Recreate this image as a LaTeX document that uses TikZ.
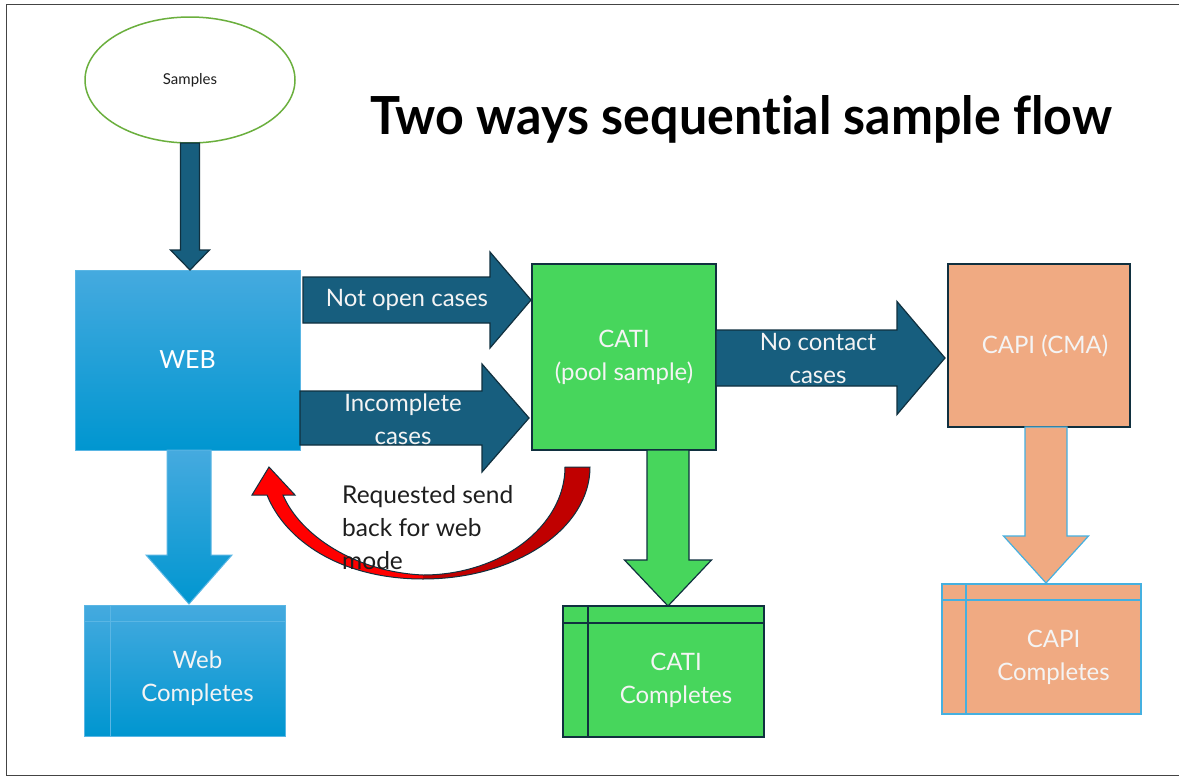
\documentclass[tikz,border=0pt]{standalone}
\usepackage{graphicx}
\usepackage{fontspec}
\setmainfont[Ligatures=NoCommon]{Lato}
\usetikzlibrary{shapes.geometric,calc}
\definecolor{arrowteal}{HTML}{175E7E}
\definecolor{navyline}{HTML}{10303F}
\definecolor{catigreen}{HTML}{47D65C}
\definecolor{capisalmon}{HTML}{F0AA82}
\definecolor{webtop}{HTML}{45AADF}
\definecolor{webbot}{HTML}{0096D0}
\definecolor{webedge}{HTML}{5AB6E4}
\definecolor{capiedge}{HTML}{45B0E0}
\definecolor{redbright}{HTML}{FF0000}
\definecolor{reddark}{HTML}{C00000}
\definecolor{framec}{HTML}{444444}
\definecolor{samplegreen}{HTML}{6AAF3D}
\definecolor{textdark}{HTML}{1E1E1E}
\definecolor{labelwhite}{HTML}{F4F4F4}
% vertical block arrow: #1 style, #2 top centre, #3 tip, #4 half shaft, #5 half head, #6 head length
\newcommand\vblockarrow[6]{%
  \path[#1] let \p1=(#2), \p2=(#3) in
    (\x1-#4pt,\y1) -- (\x1-#4pt,\y2+#6pt) -- (\x1-#5pt,\y2+#6pt) -- (\x1,\y2)
    -- (\x1+#5pt,\y2+#6pt) -- (\x1+#4pt,\y2+#6pt) -- (\x1+#4pt,\y1) -- cycle;}
% horizontal block arrow: #1 style, #2 left centre, #3 tip, #4 half shaft, #5 half head, #6 head length
\newcommand\hblockarrow[6]{%
  \path[#1] let \p1=(#2), \p2=(#3) in
    (\x1,\y1+#4pt) -- (\x2-#6pt,\y1+#4pt) -- (\x2-#6pt,\y1+#5pt) -- (\x2,\y1)
    -- (\x2-#6pt,\y1-#5pt) -- (\x2-#6pt,\y1-#4pt) -- (\x1,\y1-#4pt) -- cycle;}
\tikzset{
  tarrow/.style={fill=arrowteal, draw=navyline, line width=1.2pt, line join=miter},
  lbl/.style={text=labelwhite, font=\fontsize{24}{33}\selectfont, inner sep=0pt, align=center},
  boxnode/.style={rectangle, inner sep=0pt, line width=1.2pt},
  webshade/.style={top color=webtop, bottom color=webbot, draw=webedge, line width=1pt},
}
\begin{document}
\begin{tikzpicture}[x=1pt,y=-1pt]
\useasboundingbox (0,0) rectangle (1179,779);
\fill[white] (0,0) rectangle (1179,779);
\draw[framec, line width=1.5pt] (1185,4.5) -- (6.5,4.5) -- (6.5,775.5) -- (1185,775.5);

% title
\node[anchor=base west, inner sep=0pt] (title) at (370,134)
  {\resizebox{742pt}{39pt}{\bfseries Two ways sequential sample flow}};

% samples
\node[ellipse, draw=samplegreen, line width=1.5pt, minimum width=210pt, minimum height=126pt,
      inner sep=0pt, text=textdark, font=\fontsize{15}{18}\selectfont] (samples) at (190,80) {Samples};

% boxes
\node[boxnode, webshade, minimum width=225pt, minimum height=180pt, text=white,
      font=\fontsize{25}{33}\selectfont] (web) at (187.5,360) {WEB};
\node[boxnode, fill=catigreen, draw=navyline, minimum width=184pt, minimum height=186pt,
      lbl] (cati) at (624,357) {CATI\\(pool sample)};
\node[boxnode, fill=capisalmon, draw=navyline, minimum width=182pt, minimum height=163pt,
      lbl] (capi) at (1039,345.5) {\hspace{12pt}CAPI (CMA)};

% completes
\node[boxnode, webshade, minimum width=201pt, minimum height=131pt] (webc) at (184.5,670.5) {};
\draw[webedge, line width=1pt] (84,621) -- (285,621) (110,605) -- (110,736);
\node[lbl] (webct) at (197.5,678.5) {Web\\Completes};

\node[boxnode, fill=catigreen, draw=navyline, minimum width=201pt, minimum height=131pt] (catic) at (663.5,671.5) {};
\draw[navyline, line width=1.2pt] (563,623) -- (764,623) (588,606) -- (588,737);
\node[lbl] (catict) at (676,680) {CATI\\Completes};

\node[boxnode, fill=capisalmon, draw=capiedge, minimum width=199pt, minimum height=130pt] (capic) at (1041.5,649) {};
\draw[capiedge, line width=1.2pt] (942,600) -- (1141,600) (966,584) -- (966,714);
\node[lbl] (capict) at (1053.5,657) {CAPI\\Completes};

% named arrow ends
\coordinate (s0) at (190,143);
\coordinate (s1) at (190,270);
\coordinate (a1s) at (303,300);
\coordinate (a1e) at (531,300);
\coordinate (a2s) at (300,418);
\coordinate (a2e) at (529,418);
\coordinate (a3s) at (716,358);
\coordinate (a3e) at (945,358);
\coordinate (w0) at (189,450);
\coordinate (w1) at (189,604);
\coordinate (c0) at (668,450);
\coordinate (c1) at (668,606);
\coordinate (p0) at (1046,427);
\coordinate (p1) at (1046,583);

% block arrows
\vblockarrow{tarrow}{s0}{s1}{9.5}{19.5}{20}
\hblockarrow{tarrow}{a1s}{a1e}{23}{48}{41}
\hblockarrow{tarrow}{a2s}{a2e}{27}{54}{47}
\hblockarrow{tarrow}{a3s}{a3e}{28}{56.5}{48}
\vblockarrow{top color=webtop, bottom color=webbot, draw=webedge, line width=1pt}{w0}{w1}{22}{43}{49}
\vblockarrow{fill=catigreen, draw=navyline, line width=1.2pt}{c0}{c1}{21}{43.5}{46}
\vblockarrow{fill=capisalmon, draw=capiedge, line width=1.2pt}{p0}{p1}{21}{42.5}{47}

% arrow labels
\node[lbl] (l1) at (407,300) {Not open cases};
\node[lbl] (l2) at (403,419) {Incomplete\\cases};
\node[lbl] (l3) at (818,358) {No contact\\cases};

% red curved arrow back to web
\fill[redbright] (269,467) -- (295,495) -- (283,495)
  .. controls (300,535) and (355,572) .. (423,575)
  -- (423,579)
  .. controls (340,579) and (285,540) .. (267,495)
  -- (252,495) -- cycle;
\fill[reddark] (423,575) .. controls (501,575) and (565,526) .. (565,467)
  -- (590,467) .. controls (590,529) and (515,579) .. (423,579) -- cycle;
\draw[navyline, line width=1pt, line join=miter] (269,467) -- (295,495) -- (283,495)
  .. controls (300,535) and (355,572) .. (423,575)
  .. controls (501,575) and (565,526) .. (565,467)
  -- (590,467) .. controls (590,529) and (515,579) .. (423,579)
  .. controls (340,579) and (285,540) .. (267,495)
  -- (252,495) -- cycle;
\node[anchor=north west, inner sep=0pt, align=left, text=textdark,
      font=\fontsize{24.5}{33}\selectfont] (back) at (342,485)
  {Requested send\\back for web\\mode};
\end{tikzpicture}
\end{document}
